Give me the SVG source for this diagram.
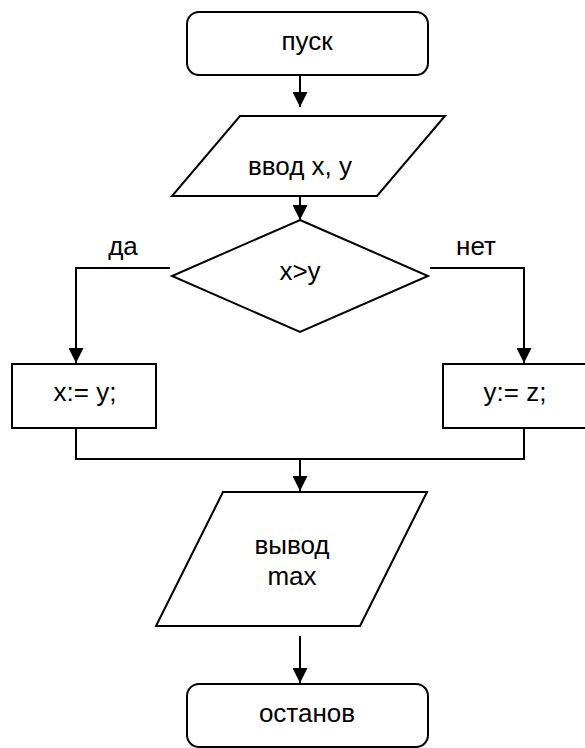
<svg xmlns="http://www.w3.org/2000/svg" width="585" height="748" viewBox="0 0 585 748">
<defs>
<marker id="arr" markerWidth="15" markerHeight="15" refX="15" refY="7.5" orient="auto" markerUnits="userSpaceOnUse">
<path d="M0,0 L15,7.5 L0,15 Z" fill="#000"/>
</marker>
<style>
.shape{fill:#fff;stroke:#000;stroke-width:2}
.line{fill:none;stroke:#000;stroke-width:2}
.arrow{fill:none;stroke:#000;stroke-width:2;marker-end:url(#arr)}
text{font-family:"Liberation Sans",Arial,sans-serif;font-size:26px;fill:#000;text-anchor:middle}
</style>
</defs>
<rect width="585" height="748" fill="#fff"/>
<g id="connectors">
<line class="arrow" x1="300" y1="75" x2="300" y2="107"/>
<line class="arrow" x1="300" y1="196" x2="300" y2="220"/>
<polyline class="arrow" points="170,268 76,268 76,363"/>
<polyline class="arrow" points="430,268 524,268 524,363"/>
<polyline class="line" points="76,428 76,459 524,459 524,428"/>
<line class="arrow" x1="300" y1="459" x2="300" y2="491"/>
<line class="arrow" x1="300" y1="636" x2="300" y2="683"/>
</g>
<g id="start">
<rect class="shape" x="187" y="12" width="241" height="63" rx="12"/>
<text x="307" y="50">пуск</text>
</g>
<g id="input">
<polygon class="shape" points="240,116 445,116 377,196 172,196"/>
<text x="300" y="175">ввод x, y</text>
</g>
<g id="decision">
<polygon class="shape" points="300,220 428,276 300,332 172,276"/>
<text x="300" y="280">x&gt;y</text>
</g>
<g id="label-yes"><text x="123" y="255">да</text></g>
<g id="label-no"><text x="476" y="255">нет</text></g>
<g id="assign-x">
<rect class="shape" x="12" y="364" width="144" height="64"/>
<text x="85" y="401">x:= y;</text>
</g>
<g id="assign-y">
<rect class="shape" x="443" y="364" width="150" height="64"/>
<text x="515" y="401">y:= z;</text>
</g>
<g id="output">
<polygon class="shape" points="223,492 427,492 360,626 156,626"/>
<text x="292" y="554">вывод</text>
<text x="292" y="585">max</text>
</g>
<g id="end">
<rect class="shape" x="187" y="684" width="241" height="63" rx="12"/>
<text x="307" y="722">останов</text>
</g>
</svg>
